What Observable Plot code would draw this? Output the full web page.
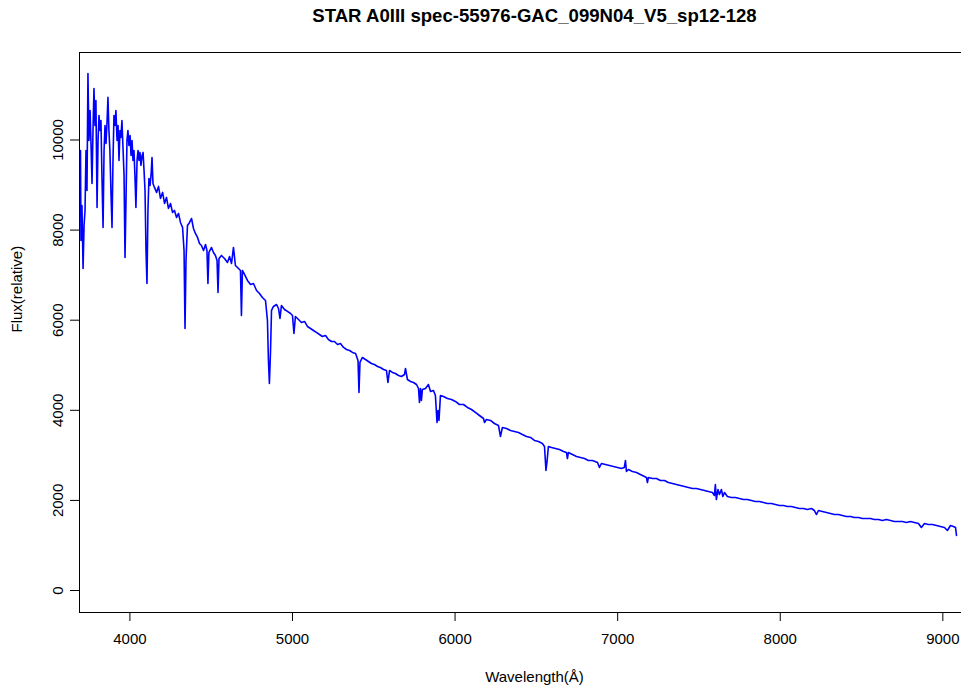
<!DOCTYPE html>
<html><head><meta charset="utf-8">
<script src="https://cdn.jsdelivr.net/npm/d3@7"></script>
<script src="https://cdn.jsdelivr.net/npm/@observablehq/plot@0.6"></script>
<style>body{margin:0;background:#fff}#c{width:961px;height:688px;overflow:hidden;position:relative;background:#fff}#c svg{max-width:none !important;width:990px !important;height:688px !important}</style>
</head><body><div id="c"></div><script>
const title = "STAR A0III spec-55976-GAC_099N04_V5_sp12-128";
const xLabel = "Wavelength(Å)";
const yLabel = "Flux(relative)";
const xTicks = [4000, 5000, 6000, 7000, 8000, 9000];
const yTicks = [0, 2000, 4000, 6000, 8000, 10000];
const wavelength = [3696,3699,3705,3712,3718,3724,3730,3736,3742,3748,3755,3761,3767,3773,3779,3785,3791,3798,3804,3810,3816,3822,3828,3835,3841,3847,3853,3859,3865,3871,3877,3884,3890,3896,3902,3908,3914,3921,3927,3933,3939,3945,3951,3957,3964,3970,3976,3982,3988,3994,4001,4007,4013,4019,4025,4031,4037,4044,4050,4056,4062,4068,4075,4081,4087,4093,4099,4105,4111,4117,4124,4130,4136,4142,4151,4164,4176,4188,4201,4213,4225,4237,4250,4262,4274,4287,4299,4311,4324,4333,4339,4345,4354,4367,4379,4391,4403,4416,4428,4440,4453,4465,4474,4480,4486,4502,4514,4526,4536,4542,4548,4563,4582,4600,4613,4625,4637,4649,4668,4680,4686,4692,4705,4723,4742,4760,4779,4797,4815,4834,4846,4852,4858,4865,4871,4883,4902,4914,4923,4932,4951,4969,4988,5000,5009,5018,5037,5055,5074,5092,5111,5129,5147,5166,5184,5203,5221,5240,5258,5277,5295,5314,5332,5351,5369,5388,5403,5409,5415,5430,5449,5467,5486,5504,5523,5541,5560,5578,5587,5597,5615,5633,5652,5670,5689,5695,5707,5726,5744,5763,5775,5781,5787,5793,5799,5818,5836,5849,5867,5879,5889,5895,5901,5910,5929,5953,5978,6002,6027,6052,6076,6101,6125,6150,6175,6181,6193,6218,6242,6267,6279,6291,6316,6341,6365,6390,6414,6439,6464,6488,6513,6537,6550,6559,6565,6574,6593,6617,6642,6667,6685,6691,6697,6722,6747,6771,6796,6820,6845,6876,6888,6900,6925,6950,6974,6999,7023,7041,7048,7054,7066,7091,7116,7140,7165,7177,7183,7189,7214,7239,7263,7288,7312,7337,7361,7386,7411,7435,7460,7484,7509,7534,7558,7583,7595,7601,7607,7617,7626,7638,7647,7657,7675,7700,7724,7749,7774,7798,7823,7847,7872,7897,7921,7946,7970,7995,8020,8044,8069,8093,8118,8143,8167,8192,8210,8223,8235,8259,8284,8309,8333,8358,8382,8407,8432,8456,8481,8505,8530,8555,8579,8604,8628,8653,8678,8702,8727,8751,8776,8801,8825,8850,8868,8887,8911,8936,8961,8985,9010,9028,9047,9065,9078,9084];
const flux = [9768,7770,8547,7148,8103,8436,9768,8880,11477,9990,10656,9879,9035,10212,11144,10323,10878,8503,9990,10545,10212,10434,9213,8059,9768,10323,9923,10367,10945,10212,9768,8769,8059,9546,10545,10323,10656,9990,10323,9546,10212,10057,10434,9879,9213,7393,8658,9990,10212,9879,10101,9657,9990,9546,9768,9213,8503,9546,9768,9546,9724,9435,9657,9724,9324,8880,7548,6815,8436,9146,8991,9213,9613,9035,8947,8836,8969,8702,8836,8591,8725,8480,8591,8392,8436,8281,8369,8170,8059,7548,5816,7326,8103,8170,8258,8036,7925,7837,7703,7659,7548,7681,7548,6815,7503,7614,7503,7437,7326,6616,7370,7437,7370,7282,7415,7259,7615,7215,7148,7104,6105,7104,7015,6882,6793,6815,6660,6593,6505,6438,5994,5106,4595,5328,6216,6305,6349,6260,6038,6327,6238,6194,6149,6105,5705,6083,6016,5950,5972,5861,5816,5772,5728,5683,5639,5661,5572,5528,5528,5461,5483,5395,5350,5328,5284,5261,5106,4396,5062,5173,5128,5084,5039,5017,4973,4951,4906,4884,4618,4884,4840,4817,4773,4751,4795,4928,4684,4640,4618,4573,4484,4174,4484,4218,4462,4484,4573,4418,4440,4329,3730,3996,3774,4329,4307,4262,4240,4196,4129,4129,4063,4018,3952,3885,3818,3730,3796,3774,3707,3663,3419,3619,3596,3552,3530,3508,3463,3419,3397,3330,3308,3263,3197,2664,2842,3197,3175,3152,3130,3086,3064,2930,3064,3019,2975,2953,2930,2886,2886,2842,2731,2819,2797,2775,2753,2731,2708,2731,2886,2642,2686,2642,2620,2575,2531,2509,2398,2509,2486,2486,2442,2442,2398,2375,2353,2331,2309,2287,2264,2264,2242,2220,2198,2176,2109,2353,2020,2242,2131,2242,2087,2176,2087,2065,2065,2042,2020,2020,1998,1976,1976,1954,1931,1931,1909,1887,1887,1865,1865,1843,1820,1820,1798,1820,1776,1687,1776,1754,1732,1709,1687,1687,1665,1643,1643,1621,1621,1598,1598,1598,1576,1576,1554,1576,1554,1532,1532,1532,1510,1532,1510,1487,1399,1487,1465,1465,1443,1421,1399,1332,1443,1421,1399,1221];
const data = wavelength.map((w, i) => ({w, f: flux[i]}));
const chart = Plot.plot({
  width: 990, height: 688,
  marginLeft: 79, marginRight: 1, marginTop: 52, marginBottom: 76,
  style: {fontFamily: "'Liberation Sans', Arial, sans-serif", fontSize: "15px", background: "white", color: "black", maxWidth: "none"},
  x: {domain: [3690, 9287]},
  y: {domain: [-488, 11942]},
  marks: [
    Plot.frame({stroke: "black", strokeWidth: 1}),
    Plot.axisX({ticks: xTicks, tickSize: 9, tickPadding: 12, label: null, tickFormat: d => String(d), fontSize: 15}),
    Plot.axisY({ticks: yTicks, tickSize: 9, tickPadding: 8, tickRotate: -90, label: null, tickFormat: d => String(d), fontSize: 15}),
    Plot.line(data, {x: "w", y: "f", stroke: "#0000ff", strokeWidth: 1.6}),
    Plot.text([title], {frameAnchor: "top", lineAnchor: "middle", dy: -36, fontWeight: "bold", fontSize: 18.6, text: d => d}),
    Plot.text([xLabel], {frameAnchor: "bottom", lineAnchor: "middle", dy: 65, fontSize: 15, text: d => d}),
    Plot.text([yLabel], {frameAnchor: "left", lineAnchor: "middle", dx: -62, rotate: -90, fontSize: 15, text: d => d})
  ]
});
document.getElementById("c").appendChild(chart);
</script></body></html>
